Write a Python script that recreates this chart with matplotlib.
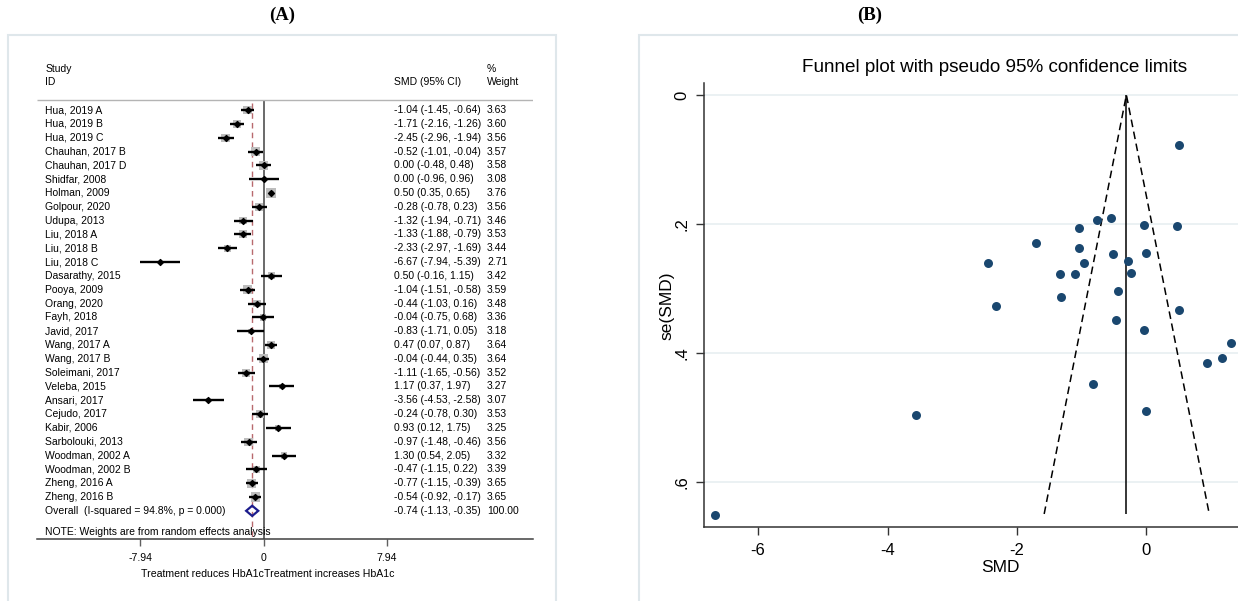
import matplotlib
matplotlib.use("Agg")
import matplotlib.pyplot as plt
from matplotlib.patches import Rectangle, Polygon

plt.rcParams['font.family'] = ['Liberation Sans', 'DejaVu Sans']

# study level results (SMD with 95% CI, random-effects weight, standard error)
studies = ["Hua, 2019 A", "Hua, 2019 B", "Hua, 2019 C", "Chauhan, 2017 B", "Chauhan, 2017 D",
           "Shidfar, 2008", "Holman, 2009", "Golpour, 2020", "Udupa, 2013", "Liu, 2018 A",
           "Liu, 2018 B", "Liu, 2018 C", "Dasarathy, 2015", "Pooya, 2009", "Orang, 2020",
           "Fayh, 2018", "Javid, 2017", "Wang, 2017 A", "Wang, 2017 B", "Soleimani, 2017",
           "Veleba, 2015", "Ansari, 2017", "Cejudo, 2017", "Kabir, 2006", "Sarbolouki, 2013",
           "Woodman, 2002 A", "Woodman, 2002 B", "Zheng, 2016 A", "Zheng, 2016 B"]
smd = [-1.04, -1.71, -2.45, -0.52, 0.00, 0.00, 0.50, -0.28, -1.32, -1.33,
       -2.33, -6.67, 0.50, -1.04, -0.44, -0.04, -0.83, 0.47, -0.04, -1.11,
       1.17, -3.56, -0.24, 0.93, -0.97, 1.30, -0.47, -0.77, -0.54]
ci_lo = [-1.45, -2.16, -2.96, -1.01, -0.48, -0.96, 0.35, -0.78, -1.94, -1.88,
         -2.97, -7.94, -0.16, -1.51, -1.03, -0.75, -1.71, 0.07, -0.44, -1.65,
         0.37, -4.53, -0.78, 0.12, -1.48, 0.54, -1.15, -1.15, -0.92]
ci_hi = [-0.64, -1.26, -1.94, -0.04, 0.48, 0.96, 0.65, 0.23, -0.71, -0.79,
         -1.69, -5.39, 1.15, -0.58, 0.16, 0.68, 0.05, 0.87, 0.35, -0.56,
         1.97, -2.58, 0.30, 1.75, -0.46, 2.05, 0.22, -0.39, -0.17]
weight = [3.63, 3.60, 3.56, 3.57, 3.58, 3.08, 3.76, 3.56, 3.46, 3.53,
          3.44, 2.71, 3.42, 3.59, 3.48, 3.36, 3.18, 3.64, 3.64, 3.52,
          3.27, 3.07, 3.53, 3.25, 3.56, 3.32, 3.39, 3.65, 3.65]
se_smd = [0.207, 0.230, 0.260, 0.247, 0.245, 0.490, 0.077, 0.258, 0.314, 0.278,
          0.327, 0.651, 0.334, 0.237, 0.304, 0.365, 0.449, 0.204, 0.202, 0.278,
          0.408, 0.497, 0.276, 0.416, 0.260, 0.385, 0.349, 0.194, 0.191]

overall_smd, overall_lo, overall_hi = -0.74, -1.13, -0.35
overall_label = "Overall  (I-squared = 94.8%, p = 0.000)"

# funnel: fixed-effect centre and pseudo 95% limits at the largest se
fe_smd = -0.31
funnel_se_max = 0.65
funnel_lo, funnel_hi = -1.58, 0.97

W, H = 1238, 601
fig = plt.figure(figsize=(W / 100, H / 100), dpi=100)


def px_box(x0, y0, x1, y1):
    return [x0 / W, 1 - y1 / H, (x1 - x0) / W, (y1 - y0) / H]


# panel frames
for x0, y0, x1, y1 in [(8, 35, 556, 640), (639, 35, 1300, 640)]:
    fig.patches.append(Rectangle((x0 / W, 1 - y1 / H), (x1 - x0) / W, (y1 - y0) / H,
                                 transform=fig.transFigure, fill=False,
                                 edgecolor='#dfe7eb', lw=1.5))

fig.text(282 / W, 1 - 15 / H, "(A)", family='Liberation Serif', weight='bold',
         fontsize=13.5, ha='center', va='center')
fig.text(870 / W, 1 - 15 / H, "(B)", family='Liberation Serif', weight='bold',
         fontsize=13.5, ha='center', va='center')

# ---- forest plot ----
ax = fig.add_axes(px_box(37, 40, 533, 539.3))
ax.set_xlim(-14.58, 17.32)
ax.set_ylim(31.06, -5.07)
for s in ['top', 'right', 'left']:
    ax.spines[s].set_visible(False)
ax.spines['bottom'].set_color('#404040')
ax.spines['bottom'].set_linewidth(1.1)
ax.set_yticks([])
ax.set_xticks([-7.94, 0, 7.94])
ax.set_xticklabels(["-7.94", "0", "7.94"])
ax.tick_params(axis='x', length=5, width=1, color='#606060', labelsize=7.6, pad=5)

name_x, est_x, wt_x = -14.06, 8.38, 14.36
fs = 7.5
ax.text(name_x, -2.97, "Study", fontsize=fs, va='center')
ax.text(name_x, -2.0, "ID", fontsize=fs, va='center')
ax.text(est_x, -2.0, "SMD (95% CI)", fontsize=fs, va='center')
ax.text(wt_x, -2.97, "%", fontsize=fs, va='center')
ax.text(wt_x, -2.0, "Weight", fontsize=fs, va='center')
ax.hlines(-0.72, -14.58, 17.32, color='#b4b4b4', lw=1)

ax.vlines(0, -0.72, 31.06, color='#505050', lw=1.2, zorder=1)
ax.vlines(overall_smd, -0.5, 31.06, color='#b86a6e', lw=1, linestyles=(0, (4, 3)), zorder=1)

rows = list(range(len(studies)))
box_side = [max(0.0, 10 * (w - 2.62) / (3.76 - 2.62)) * 0.72 for w in weight]
ax.scatter(smd, rows, marker='s', s=[b ** 2 for b in box_side], color='#bdbdbd',
           linewidths=0, zorder=2)
ax.hlines(rows, ci_lo, ci_hi, color='black', lw=1.7, zorder=3)
ax.scatter(smd, rows, marker='D', s=9, color='black', zorder=4)

for i, name in enumerate(studies):
    ax.text(name_x, i, name, fontsize=fs, va='center')
    ax.text(est_x, i, f"{smd[i]:.2f} ({ci_lo[i]:.2f}, {ci_hi[i]:.2f})", fontsize=fs, va='center')
    ax.text(wt_x, i, f"{weight[i]:.2f}", fontsize=fs, va='center')

ov = len(studies)
ax.add_patch(Polygon([(overall_lo, ov), (overall_smd, ov - 0.37), (overall_hi, ov),
                      (overall_smd, ov + 0.37)], closed=True, fill=False,
                     edgecolor='#1c1c8c', lw=1.6, zorder=5))
ax.text(name_x, ov, overall_label, fontsize=fs, va='center')
ax.text(est_x, ov, f"{overall_smd:.2f} ({overall_lo:.2f}, {overall_hi:.2f})", fontsize=fs, va='center')
ax.text(wt_x, ov, "100.00", fontsize=fs, va='center')
ax.text(name_x, 30.5, "NOTE: Weights are from random effects analysis", fontsize=fs, va='center')

fig.text(263.7 / W, 1 - 574 / H, "Treatment reduces HbA1c", fontsize=7.6, ha='right', va='center')
fig.text(263.7 / W, 1 - 574 / H, "Treatment increases HbA1c", fontsize=7.6, ha='left', va='center')

# ---- funnel plot ----
bx = fig.add_axes(px_box(704.3, 83.3, 1296, 527.3))
bx.set_xlim(-6.83, 2.31)
bx.set_ylim(0.6707, -0.018)
for s in ['top', 'right']:
    bx.spines[s].set_visible(False)
for s in ['left', 'bottom']:
    bx.spines[s].set_color('#333333')
    bx.spines[s].set_linewidth(1.1)
bx.set_yticks([0, 0.2, 0.4, 0.6])
bx.set_yticklabels(["0", ".2", ".4", ".6"], rotation=90, va='center')
bx.set_xticks([-6, -4, -2, 0])
bx.set_xticklabels(["-6", "-4", "-2", "0"])
bx.tick_params(length=6, width=1, color='#333333', labelsize=12, pad=5)
for g in [0, 0.2, 0.4, 0.6]:
    bx.axhline(g, color='#e7eff1', lw=1.2, zorder=0)

bx.vlines(fe_smd, 0, funnel_se_max, color='black', lw=1.1, zorder=2)
bx.plot([funnel_lo, fe_smd, funnel_hi], [funnel_se_max, 0, funnel_se_max], color='black',
        lw=1.1, dashes=(5, 3), zorder=2)
bx.scatter(smd, se_smd, s=42, color='#1a476f', linewidths=0, zorder=3)

bx.set_xlabel("SMD", fontsize=12.5, labelpad=2)
bx.set_ylabel("se(SMD)", fontsize=12.5, labelpad=0)
fig.text(995 / W, 1 - 67 / H, "Funnel plot with pseudo 95% confidence limits",
         fontsize=13.6, ha='center', va='center')

fig.savefig("out.png", dpi=100)
